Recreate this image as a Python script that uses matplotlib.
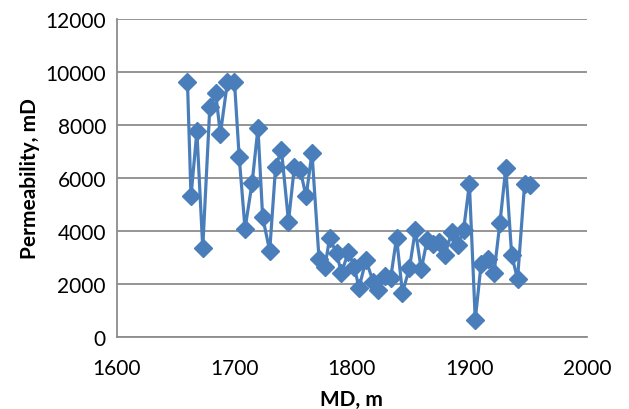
import numpy as np
import matplotlib
matplotlib.use("Agg")
import matplotlib.pyplot as plt

plt.rcParams['font.family'] = ['Lato', 'DejaVu Sans']

md = [1660, 1663, 1668, 1673, 1679, 1684, 1688, 1694, 1700, 1704,
      1709, 1715, 1720, 1724, 1730, 1735, 1740, 1746, 1751, 1756,
      1761, 1766, 1772, 1777, 1781, 1787, 1791, 1797, 1802, 1806,
      1812, 1818, 1822, 1828, 1833, 1838, 1843, 1849, 1854, 1859,
      1864, 1869, 1874, 1879, 1885, 1890, 1895, 1900, 1905, 1910,
      1916, 1921, 1926, 1931, 1936, 1941, 1947, 1952]
perm = [9620, 5300, 7750, 3350, 8650, 9200, 7650, 9600, 9620, 6800,
        4080, 5800, 7870, 4520, 3240, 6400, 7050, 4350, 6420, 6290,
        5300, 6940, 2940, 2640, 3720, 3150, 2400, 3200, 2640, 1850,
        2900, 2080, 1760, 2280, 2220, 3740, 1660, 2600, 4030, 2540,
        3650, 3520, 3560, 3080, 3940, 3450, 4020, 5760, 650, 2760,
        2920, 2420, 4300, 6370, 3080, 2180, 5760, 5740]

xticks = [1600, 1700, 1800, 1900, 2000]
yticks = [0, 2000, 4000, 6000, 8000, 10000, 12000]

fig = plt.figure(figsize=(6.29, 4.10), dpi=100)
ax = fig.add_axes([0.186, 0.176, 0.747, 0.776])

ax.plot(md, perm, color='#4A7EBB', lw=2.3, marker='D', ms=8.8,
        markerfacecolor='#4A7EBB', markeredgecolor='#4A7EBB')

ax.set_xlim(1600, 2000)
ax.set_ylim(0, 12000)
ax.set_xticks(xticks)
ax.set_yticks(yticks)
ax.tick_params(length=0, labelsize=15)
ax.tick_params(axis='y', pad=8)
ax.tick_params(axis='x', pad=15)
ax.yaxis.grid(True, color='#8C8C8C', lw=1.3)
ax.set_axisbelow(True)
for s in ['top', 'right']:
    ax.spines[s].set_visible(False)
for s in ['left', 'bottom']:
    ax.spines[s].set_color('#8C8C8C')
    ax.spines[s].set_linewidth(1.3)

ax.set_xlabel('MD, m', fontsize=15, fontweight='bold', labelpad=8)
ax.set_ylabel('Permeability, mD', fontsize=15, fontweight='bold', labelpad=4)

fig.savefig('out.png', dpi=100)
